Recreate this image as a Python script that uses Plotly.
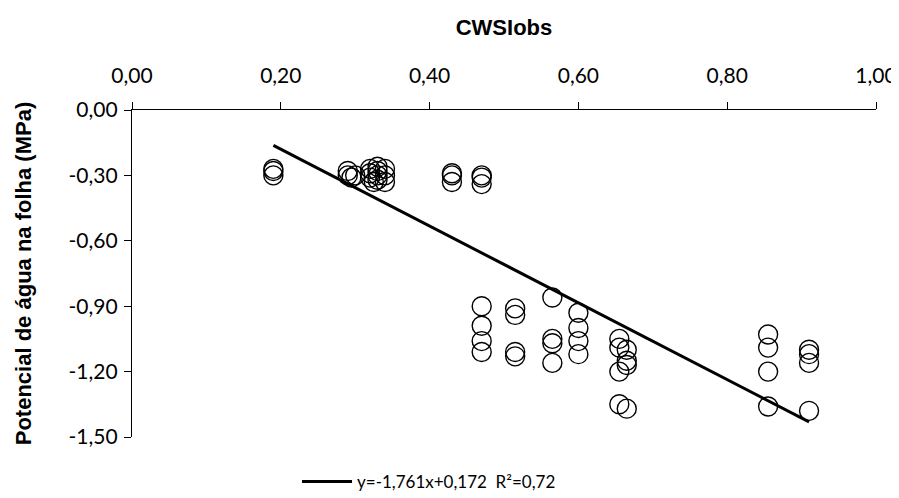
import plotly.graph_objects as go

# CWSI observed (x) and leaf water potential (y, MPa)
cwsi_obs = [0.19, 0.19, 0.19,
            0.29, 0.29, 0.295, 0.30,
            0.32, 0.32, 0.32, 0.325,
            0.33, 0.33, 0.33, 0.33,
            0.34, 0.34, 0.34,
            0.43, 0.43, 0.43,
            0.47, 0.47, 0.47,
            0.47, 0.47, 0.47, 0.47,
            0.515, 0.515, 0.515, 0.515,
            0.565, 0.565, 0.565, 0.565,
            0.60, 0.60, 0.60, 0.60,
            0.655, 0.655, 0.655, 0.655,
            0.665, 0.665, 0.665, 0.665,
            0.855, 0.855, 0.855, 0.855,
            0.91, 0.91, 0.91, 0.91]
psi_leaf = [-0.27, -0.28, -0.30,
            -0.28, -0.30, -0.31, -0.30,
            -0.27, -0.29, -0.31, -0.33,
            -0.26, -0.28, -0.30, -0.32,
            -0.27, -0.30, -0.33,
            -0.29, -0.30, -0.33,
            -0.30, -0.31, -0.34,
            -0.90, -0.99, -1.06, -1.11,
            -0.91, -0.94, -1.11, -1.13,
            -0.86, -1.05, -1.07, -1.16,
            -0.93, -1.00, -1.06, -1.12,
            -1.05, -1.09, -1.20, -1.35,
            -1.10, -1.15, -1.17, -1.37,
            -1.03, -1.09, -1.20, -1.36,
            -1.10, -1.12, -1.16, -1.38]

slope = -1.761
intercept = 0.172
r2 = 0.72

x_ticks = [0.0, 0.2, 0.4, 0.6, 0.8, 1.0]
x_tick_labels = ["0,00", "0,20", "0,40", "0,60", "0,80", "1,00"]
y_ticks = [0.0, -0.3, -0.6, -0.9, -1.2, -1.5]
y_tick_labels = ["0,00", "-0,30", "-0,60", "-0,90", "-1,20", "-1,50"]

x_line = [min(cwsi_obs), max(cwsi_obs)]
y_line = [slope * v + intercept for v in x_line]

fig = go.Figure()
fig.add_trace(go.Scatter(
    x=cwsi_obs, y=psi_leaf, mode="markers",
    marker=dict(symbol="circle-open", size=19, color="black", line=dict(width=1.4, color="black")),
    showlegend=False, hoverinfo="x+y", cliponaxis=False))
fig.add_trace(go.Scatter(
    x=x_line, y=y_line, mode="lines",
    line=dict(color="black", width=3),
    name="y=-1,761x+0,172  R²=0,72"))

fig.update_layout(
    width=891, height=490,
    margin=dict(l=124, r=23, t=102, b=61, autoexpand=False),
    paper_bgcolor="white", plot_bgcolor="white",
    font=dict(family="Lato, Arial, sans-serif", color="black"),
    showlegend=True,
    legend=dict(orientation="h", xref="container", yref="container",
                x=0.3244, xanchor="left", y=0.0327, yanchor="middle",
                font=dict(size=17, family="Lato, Arial, sans-serif"),
                bgcolor="rgba(0,0,0,0)", itemwidth=50),
    xaxis=dict(range=[0, 1], side="top", tickvals=x_ticks, ticktext=x_tick_labels,
               automargin=False,
               showgrid=False, zeroline=False, showline=True, linecolor="black", linewidth=1.3,
               ticks="outside", ticklen=7, tickcolor="black", tickwidth=1.3,
               ticklabelstandoff=10,
               tickfont=dict(size=21),
               title=dict(text="<b>CWSIobs</b>", font=dict(size=22, family="Arial, Liberation Sans, sans-serif"), standoff=20)),
    yaxis=dict(range=[-1.5, 0], tickvals=y_ticks, ticktext=y_tick_labels,
               automargin=False,
               showgrid=False, zeroline=False, showline=True, linecolor="black", linewidth=1.3,
               ticks="outside", ticklen=7, tickcolor="black", tickwidth=1.3,
               ticklabelstandoff=2,
               tickfont=dict(size=21),
               title=dict(text="<b>Potencial de água na folha (MPa)</b>", font=dict(size=22, family="Arial, Liberation Sans, sans-serif"), standoff=30)),
)

fig.write_html("out.html")
